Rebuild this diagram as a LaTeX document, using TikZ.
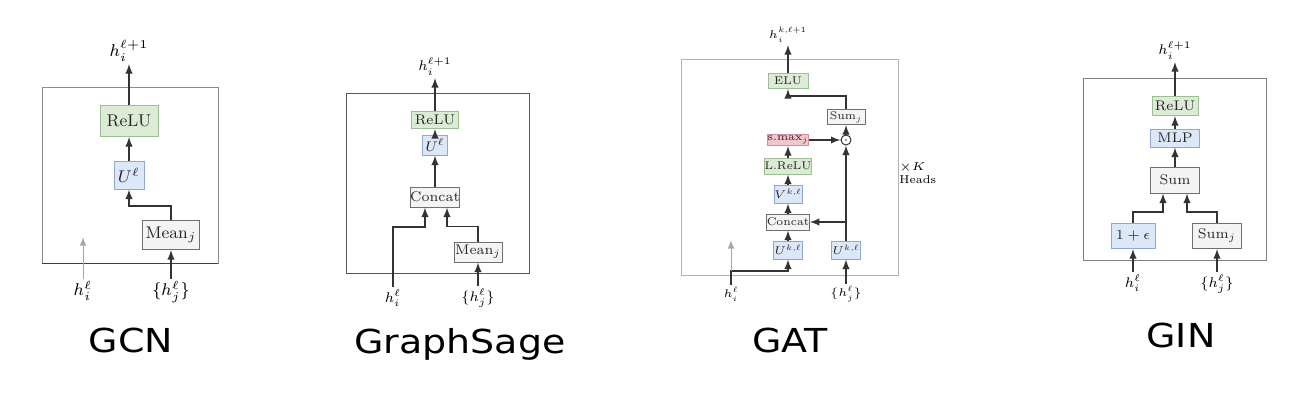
\RequirePackage{fix-cm}
\documentclass[tikz,border=0pt]{standalone}
\usepackage{fontspec}
\newfontfamily\titlefont[FakeStretch=1.15]{DejaVu Sans}
\usetikzlibrary{calc}

\definecolor{actFill}{HTML}{DCEBD6}
\definecolor{actDraw}{HTML}{9DBD95}
\definecolor{linFill}{HTML}{DCE7F8}
\definecolor{linDraw}{HTML}{8EA8D2}
\definecolor{aggFill}{HTML}{F4F4F4}
\definecolor{aggDraw}{HTML}{707070}
\definecolor{smaxFill}{HTML}{F3C6CD}
\definecolor{smaxDraw}{HTML}{D58E9A}
\definecolor{flowGray}{HTML}{333333}

\tikzset{
  layer/.style={draw, line width=0.5pt, inner sep=0pt, text=black!85},
  boxSize/.style 2 args={minimum width=#1, minimum height=#2},
  act/.style={layer, fill=actFill, draw=actDraw},
  lin/.style={layer, fill=linFill, draw=linDraw},
  agg/.style={layer, fill=aggFill, draw=aggDraw},
  smax/.style={layer, fill=smaxFill, draw=smaxDraw},
  flow/.style={-latex, line width=0.65pt, draw=flowGray},
  faded/.style={-latex, line width=0.5pt, draw=black!35},
  frame/.style={draw=black!45, line width=0.5pt},
  inLabel/.style={anchor=north, inner sep=1pt},
  outLabel/.style={anchor=south, inner sep=1pt},
  title/.style={font=\titlefont\fontsize{16.5}{18}\selectfont, anchor=base},
}

\begin{document}
\begin{tikzpicture}[x=0.5pt, y=-0.5pt]
    \useasboundingbox (0,0) rectangle (1314,418);

    \begin{scope}[font=\fontsize{8.5}{10}\selectfont]
    \draw[frame] (42,87) rectangle (218,263);
    \draw[frame, draw=black!75] (42,263) -- (218,263);
    \node[act, boxSize={29pt}{15.5pt}] (gcnReLU) at (129,121) {ReLU};
    \node[lin, boxSize={15pt}{14pt}] (gcnU) at (129,175) {$U^\ell$};
    \node[agg, boxSize={28.5pt}{14.5pt}] (gcnMean) at (171,235) {Mean$_j$};
    \node[outLabel] (gcnOut) at (129,64) {$h_i^{\ell+1}$};
    \node[inLabel] (gcnHi) at (83,279) {$h_i^\ell$};
    \node[inLabel] (gcnHj) at (171,279) {$\{h_j^\ell\}$};
    \coordinate (gcnFade) at (83,237);

    \draw[flow] (gcnReLU) -- (gcnOut);
    \draw[flow] (gcnU) -- (gcnReLU);
    \draw[flow] (gcnMean.north) -- ++(0,-14) -| (gcnU.south);
    \draw[flow] (gcnHj) -- (gcnMean);
    \draw[faded] (gcnHi) -- (gcnFade);
    \end{scope}
    \node[title] (gcnTitle) at (131,352) {GCN};

    \begin{scope}[font=\fontsize{7}{8}\selectfont]
    \draw[frame, draw=black!65] (346,93) rectangle (529,273);
    \node[act, boxSize={23.5pt}{8.5pt}] (gsReLU) at (435,120) {ReLU};
    \node[lin, boxSize={12.5pt}{10pt}] (gsU) at (435,145) {$U^\ell$};
    \node[agg, boxSize={23.5pt}{10pt}] (gsConcat) at (435,197) {Concat};
    \node[agg, boxSize={24pt}{10pt}] (gsMean) at (478,252) {Mean$_j$};
    \node[outLabel] (gsOut) at (435,78) {$h_i^{\ell+1}$};
    \node[inLabel] (gsHi) at (393,287) {$h_i^\ell$};
    \node[inLabel] (gsHj) at (478,286) {$\{h_j^\ell\}$};

    \draw[flow] (gsReLU) -- (gsOut);
    \draw[flow] (gsU) -- (gsReLU);
    \draw[flow] (gsConcat) -- (gsU);
    \draw[flow] (gsHi.north) -- ++(0,-60) -| ([xshift=-5pt]gsConcat.south);
    \draw[flow] (gsMean.north) -- ++(0,-15) -| ([xshift=6pt]gsConcat.south);
    \draw[flow] (gsHj) -- (gsMean);
    \end{scope}
    \node[title] (gsTitle) at (460,353) {GraphSage};

    \begin{scope}[font=\fontsize{5.6}{6.6}\selectfont]
    \draw[frame, draw=black!30] (681,59) rectangle (898,275);
    \node[act, boxSize={20pt}{7.5pt}] (gatELU) at (788,81) {ELU};
    \node[agg, boxSize={19pt}{7.5pt}] (gatSum) at (846,117) {Sum$_j$};
    \node[circle, draw=flowGray, fill=white, line width=0.5pt, inner sep=0pt, minimum size=5pt] (gatDot) at (846,140) {};
    \node[smax, boxSize={20pt}{5.5pt}] (gatSmax) at (788,140) {s.max$_j$};
    \node[act, boxSize={20.5pt}{8pt}] (gatLReLU) at (788,166) {L.ReLU};
    \node[lin, boxSize={14pt}{9pt}] (gatV) at (788,194) {$V^{k,\ell}$};
    \node[agg, boxSize={20pt}{8pt}] (gatConcat) at (788,222) {Concat};
    \node[lin, boxSize={14.5pt}{9pt}] (gatUa) at (788,250) {$U^{k,\ell}$};
    \node[lin, boxSize={14.5pt}{9pt}] (gatUb) at (846,250) {$U^{k,\ell}$};
    \node[outLabel] (gatOut) at (788,45) {$h_i^{k,\ell+1}$};
    \node[inLabel] (gatHi) at (731,285) {$h_i^\ell$};
    \node[inLabel] (gatHj) at (846,284) {$\{h_j^\ell\}$};
    \node[anchor=west, align=left, font=\fontsize{5.7}{6.4}\selectfont, inner sep=0pt] (gatHeads) at (899,173) {$\times K$\\Heads};
    \coordinate (gatJoin) at (731,271);
    \coordinate (gatFade) at (731,240);
    \fill[flowGray] (gatDot.center) circle (0.4pt);

    \draw[flow] (gatELU) -- (gatOut);
    \draw[flow] (gatSum.north) -- ++(0,-13) -| (gatELU.south);
    \draw[flow] (gatDot) -- (gatSum);
    \draw[flow] (gatSmax) -- (gatDot);
    \draw[flow] (gatLReLU) -- (gatSmax);
    \draw[flow] (gatV) -- (gatLReLU);
    \draw[flow] (gatConcat) -- (gatV);
    \draw[flow] (gatUa) -- (gatConcat);
    \draw[flow] (gatUb) -- (gatDot);
    \draw[flow] (gatUb.north |- gatConcat.east) -- (gatConcat.east);
    \draw[flow] (gatHj) -- (gatUb);
    \draw[flow] (gatHi.north) -- (gatJoin) -| (gatUa.south);
    \draw[faded] (gatJoin) -- (gatFade);
    \end{scope}
    \node[title] (gatTitle) at (790,352) {GAT};

    \begin{scope}[font=\fontsize{7}{8}\selectfont]
    \draw[frame, draw=black!50] (1083,78) rectangle (1266,260);
    \node[act, boxSize={23pt}{9.5pt}] (ginReLU) at (1175,106) {ReLU};
    \node[lin, boxSize={24.5pt}{9pt}] (ginMLP) at (1175,138) {MLP};
    \node[agg, boxSize={24.5pt}{13pt}] (ginSum) at (1175,180) {Sum};
    \node[lin, boxSize={22pt}{12.5pt}] (ginEps) at (1133,236) {$1+\epsilon$};
    \node[agg, boxSize={24.5pt}{12.5pt}] (ginSumj) at (1217,236) {Sum$_j$};
    \node[outLabel] (ginOut) at (1175,62) {$h_i^{\ell+1}$};
    \node[inLabel] (ginHi) at (1133,272) {$h_i^\ell$};
    \node[inLabel] (ginHj) at (1217,272) {$\{h_j^\ell\}$};

    \draw[flow] (ginReLU) -- (ginOut);
    \draw[flow] (ginMLP) -- (ginReLU);
    \draw[flow] (ginSum) -- (ginMLP);
    \draw[flow] (ginEps.north) -- ++(0,-11) -| ([xshift=-6pt]ginSum.south);
    \draw[flow] (ginSumj.north) -- ++(0,-11) -| ([xshift=6pt]ginSum.south);
    \draw[flow] (ginHi) -- (ginEps);
    \draw[flow] (ginHj) -- (ginSumj);
    \end{scope}
    \node[title] (ginTitle) at (1181,347) {GIN};
\end{tikzpicture}
\end{document}
